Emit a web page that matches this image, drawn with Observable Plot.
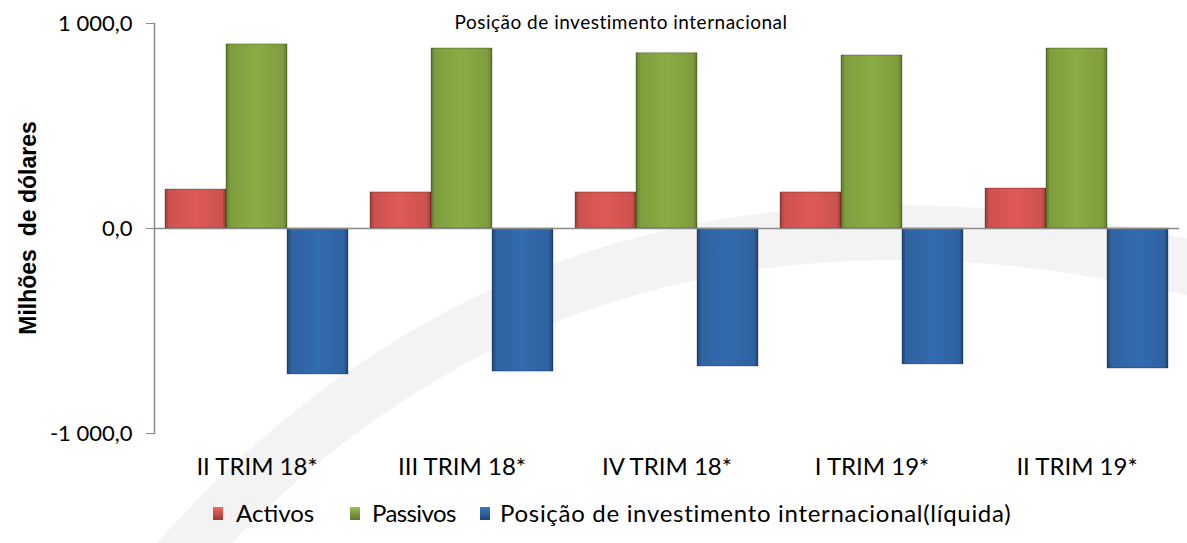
<!DOCTYPE html>
<html>
<head>
<meta charset="utf-8">
<script src="https://cdn.jsdelivr.net/npm/d3@7"></script>
<script src="https://cdn.jsdelivr.net/npm/@observablehq/plot@0.6"></script>
<style>
  html, body { margin: 0; padding: 0; background: #fff; }
  #wrap { position: relative; width: 1187px; height: 543px; overflow: hidden; font-family: Lato, "Open Sans", sans-serif; color: #000; }
  #bg { position: absolute; left: 0; top: 0; }
  #plot { position: absolute; left: 0; top: 0; }
  #title { position: absolute; top: 10px; left: 621px; transform: translateX(-50%); font-size: 19px; letter-spacing: 0.5px; white-space: nowrap; }
  #ytitle { position: absolute; left: 28px; top: 228px; transform: translate(-50%, -50%) rotate(-90deg); font-family: "Liberation Sans", Arial, sans-serif; font-weight: bold; font-size: 23px; white-space: pre; }
  #legend { position: absolute; top: 0; left: 0; font-size: 24px; white-space: nowrap; }
  #legend .sw { position: absolute; top: 507px; width: 10px; height: 13px; }
  #legend .lt { position: absolute; top: 498px; }
</style>
</head>
<body>
<div id="wrap">
  <svg id="bg" width="1187" height="543"><path d="M 170 570 Q 560 120 1200 270" fill="none" stroke="#f3f3f3" stroke-width="55"/></svg>
  <div id="plot"></div>
  <div id="title"></div>
  <div id="ytitle"></div>
  <div id="legend"></div>
</div>
<script>
// ---- data ----
const quarters = ["II TRIM 18*", "III TRIM 18*", "IV TRIM 18*", "I TRIM 19*", "II TRIM 19*"];
const series = ["Activos", "Passivos", "Posição de investimento internacional(líquida)"];
const activos = [190, 176, 176, 176, 195];
const passivos = [898, 878, 855, 844, 878];
const liquida = [-712, -698, -673, -663, -683];
const yTicks = [-1000, 0, 1000];
const titleText = "Posição de investimento internacional";
const yLabel = "Milhões  de dólares";
const colors = ["#cc524e", "#7f9d3e", "#2f62a0"];
const darkColors = ["#9e3a37", "#5d7a2a", "#1f4577"];

const rows = quarters.flatMap((q, i) => [
  {quarter: q, series: series[0], value: activos[i]},
  {quarter: q, series: series[1], value: passivos[i]},
  {quarter: q, series: series[2], value: liquida[i]}
]);

const loc = d3.formatLocale({decimal: ",", thousands: "\u00a0", grouping: [3], currency: ["", ""], minus: "-"});
const fmt = loc.format(",.1f");

const gradIds = series.map((s, i) => "grad" + i);

const plot = Plot.plot({
  width: 1187,
  height: 492,
  marginLeft: 152,
  marginRight: 7,
  marginTop: 23,
  marginBottom: 59,
  style: {fontFamily: "Lato, 'Open Sans', sans-serif", fontSize: "22px", color: "#000", background: "transparent", overflow: "visible"},
  fx: {domain: quarters, padding: 0, label: null},
  x: {domain: series, paddingInner: 0, paddingOuter: 0.158, axis: null},
  y: {domain: [-1000, 1000], label: null},
  color: {domain: series, range: gradIds.map(id => `url(#${id})`)},
  marks: [
    Plot.barY(rows, {fx: "quarter", x: "series", y: "value", fill: "series", stroke: "#00000045", strokeWidth: 1}),
    Plot.ruleY([0], {stroke: "#8a8a8a", strokeWidth: 1.5}),
    Plot.frame({anchor: "left", facetAnchor: "left", stroke: "#8a8a8a", strokeWidth: 1.5}),
    Plot.axisY({ticks: yTicks, tickFormat: fmt, tickSize: 8, tickPadding: 14, stroke: "#8a8a8a", label: null, fontSize: 22}),
    Plot.axisFx({anchor: "bottom", tickSize: 0, tickPadding: 24, label: null, fontSize: 24})
  ]
});

// gradient definitions (bevel-like shading)
const ns = "http://www.w3.org/2000/svg";
const defs = document.createElementNS(ns, "defs");
colors.forEach((c, i) => {
  const g = document.createElementNS(ns, "linearGradient");
  g.setAttribute("id", gradIds[i]);
  g.setAttribute("x1", "0"); g.setAttribute("x2", "1"); g.setAttribute("y1", "0"); g.setAttribute("y2", "0");
  const light = d3.color(c).brighter(0.25).formatHex();
  [[0, darkColors[i]], [0.07, c], [0.5, light], [0.93, c], [1, darkColors[i]]].forEach(([o, col]) => {
    const st = document.createElementNS(ns, "stop");
    st.setAttribute("offset", o);
    st.setAttribute("stop-color", col);
    g.appendChild(st);
  });
  defs.appendChild(g);
});
plot.insertBefore(defs, plot.firstChild);
document.getElementById("plot").appendChild(plot);

document.getElementById("title").textContent = titleText;
document.getElementById("ytitle").textContent = yLabel;
const legend = document.getElementById("legend");
const swX = [213, 350, 480];
const txX = [236, 372, 500];
const spacing = ["0px", "-0.6px", "0.7px"];
series.forEach((s, i) => {
  const sw = document.createElement("div");
  sw.className = "sw";
  sw.style.left = swX[i] + "px";
  sw.style.background = `linear-gradient(to bottom, ${d3.color(colors[i]).brighter(0.6).formatHex()}, ${colors[i]} 45%, ${darkColors[i]})`;
  const t = document.createElement("div");
  t.className = "lt";
  t.style.left = txX[i] + "px";
  t.style.letterSpacing = spacing[i];
  t.textContent = s;
  legend.appendChild(sw);
  legend.appendChild(t);
});
</script>
</body>
</html>
